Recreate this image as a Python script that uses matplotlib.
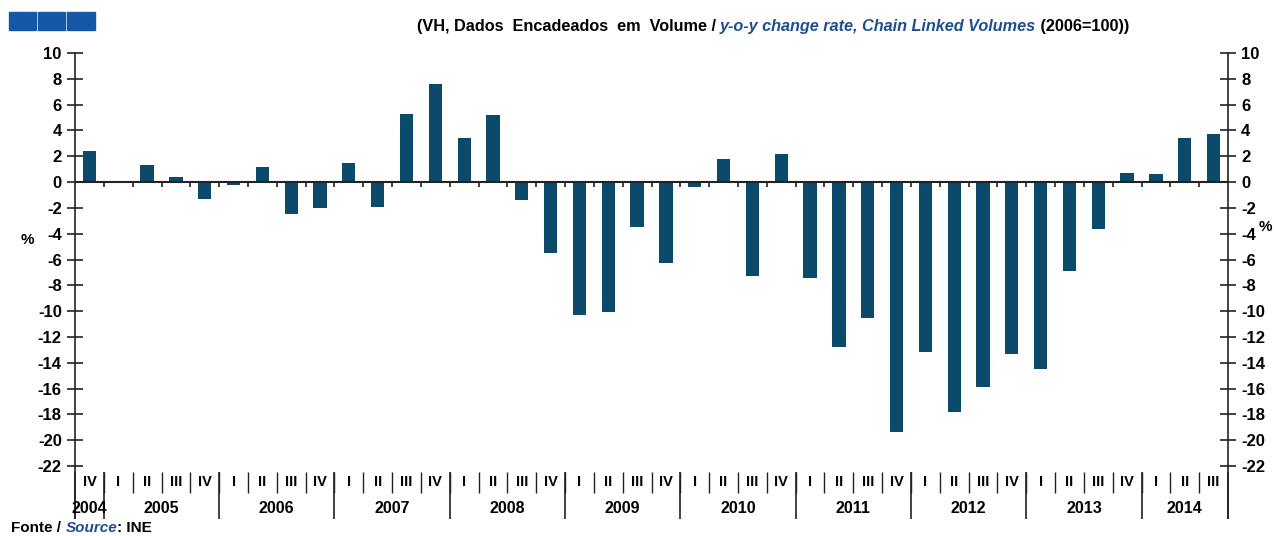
import matplotlib
matplotlib.use("Agg")
import matplotlib.pyplot as plt
from matplotlib.patches import Rectangle

plt.rcParams['font.family'] = ['Liberation Sans', 'DejaVu Sans']
plt.rcParams['font.weight'] = 'bold'
plt.rcParams['axes.unicode_minus'] = False

quarters = ["IV",
            "I", "II", "III", "IV",
            "I", "II", "III", "IV",
            "I", "II", "III", "IV",
            "I", "II", "III", "IV",
            "I", "II", "III", "IV",
            "I", "II", "III", "IV",
            "I", "II", "III", "IV",
            "I", "II", "III", "IV",
            "I", "II", "III", "IV",
            "I", "II", "III"]
years = ["2004", "2005", "2006", "2007", "2008", "2009", "2010",
         "2011", "2012", "2013", "2014"]
quarters_per_year = [1, 4, 4, 4, 4, 4, 4, 4, 4, 4, 3]
values = [2.4,
          0.1, 1.3, 0.4, -1.3,
          -0.2, 1.2, -2.5, -2.0,
          1.5, -1.9, 5.3, 7.6,
          3.4, 5.2, -1.4, -5.5,
          -10.3, -10.1, -3.5, -6.3,
          -0.4, 1.8, -7.3, 2.2,
          -7.4, -12.8, -10.5, -19.4,
          -13.2, -17.8, -15.9, -13.3,
          -14.5, -6.9, -3.6, 0.7,
          0.6, 3.4, 3.7]

bar_color = '#0B4A6B'
line_color = '#222222'
blue_text = '#1F4E8C'

fig = plt.figure(figsize=(12.74, 5.36), dpi=100)
ax = fig.add_axes([0.0589, 0.1306, 0.905, 0.7705])

n = len(values)
x = list(range(n))
ax.bar(x, values, width=0.46, color=bar_color, zorder=2)

ax.set_xlim(-0.5, n - 0.5)
ax.set_ylim(-22, 10)
ax.set_yticks(range(-22, 11, 2))
ax.set_xticks([])
for s in ['top', 'bottom']:
    ax.spines[s].set_visible(False)
for s in ['left', 'right']:
    ax.spines[s].set_color(line_color)
    ax.spines[s].set_linewidth(1.2)
ax.yaxis.set_ticks_position('both')
ax.tick_params(axis='y', direction='inout', length=11, width=1.2, color=line_color,
               labelsize=12, labelright=True, pad=4)
for lab in ax.get_yticklabels():
    lab.set_fontweight('bold')

# zero line with small ticks between quarters
ax.axhline(0, color=line_color, lw=1.5, zorder=3)
bounds = [i + 0.5 for i in range(n - 1)]
ax.vlines(bounds, -0.4, 0, color=line_color, lw=1.2, zorder=3)

# category axis below the plot
tr = ax.get_xaxis_transform()
for i, q in enumerate(quarters):
    ax.text(i, -0.039, q, transform=tr, ha='center', va='center', fontsize=10.5,
            fontweight='bold')
ax.vlines(bounds, -0.015, -0.065, transform=tr, color=line_color, lw=1.0, clip_on=False)

start = 0
year_bounds = []
for y, k in zip(years, quarters_per_year):
    ax.text(start + (k - 1) / 2, -0.102, y, transform=tr, ha='center', va='center',
            fontsize=11.5, fontweight='bold')
    start += k
    year_bounds.append(start - 0.5)
ax.vlines([-0.5] + year_bounds, -0.015, -0.128, transform=tr, color=line_color,
          lw=1.2, clip_on=False)
ax.vlines([-0.5, n - 0.5], 0, -0.128, transform=tr, color=line_color, lw=1.2,
          clip_on=False)

# % labels
fig.text(0.016, 0.552, '%', fontsize=11, fontweight='bold', va='center')
fig.text(0.988, 0.576, '%', fontsize=11, fontweight='bold', va='center')

# header squares
for k in range(3):
    fig.patches.append(Rectangle((0.0071 + k * 0.0228, 0.944), 0.0215, 0.034,
                                 transform=fig.transFigure, color='#1559A6'))

# title in three pieces
ty = 0.943
t1 = fig.text(0.327, ty, '(VH, Dados  Encadeados  em  Volume / ', fontsize=11.7,
              fontweight='bold', va='baseline')
t2 = fig.text(0, 0, 'y-o-y change rate, Chain Linked Volumes', fontsize=11.7,
              fontweight='bold', style='italic', color=blue_text, va='baseline')
t3 = fig.text(0, 0, ' (2006=100))', fontsize=11.7, fontweight='bold', va='baseline')
fig.canvas.draw()
r = fig.canvas.get_renderer()
inv = fig.transFigure.inverted()
e1 = inv.transform(t1.get_window_extent(r))
t2.set_position((e1[1][0], ty))
fig.canvas.draw()
e2 = inv.transform(t2.get_window_extent(r))
t3.set_position((e2[1][0], ty))

# source
s1 = fig.text(0.009, 0.008, 'Fonte / ', fontsize=11, fontweight='bold')
s2 = fig.text(0, 0, 'Source', fontsize=11, fontweight='bold', style='italic',
              color=blue_text)
s3 = fig.text(0, 0, ': INE', fontsize=11, fontweight='bold')
fig.canvas.draw()
e = inv.transform(s1.get_window_extent(r))
s2.set_position((e[1][0], 0.008))
fig.canvas.draw()
e = inv.transform(s2.get_window_extent(r))
s3.set_position((e[1][0], 0.008))

fig.savefig('out.png', dpi=100)
